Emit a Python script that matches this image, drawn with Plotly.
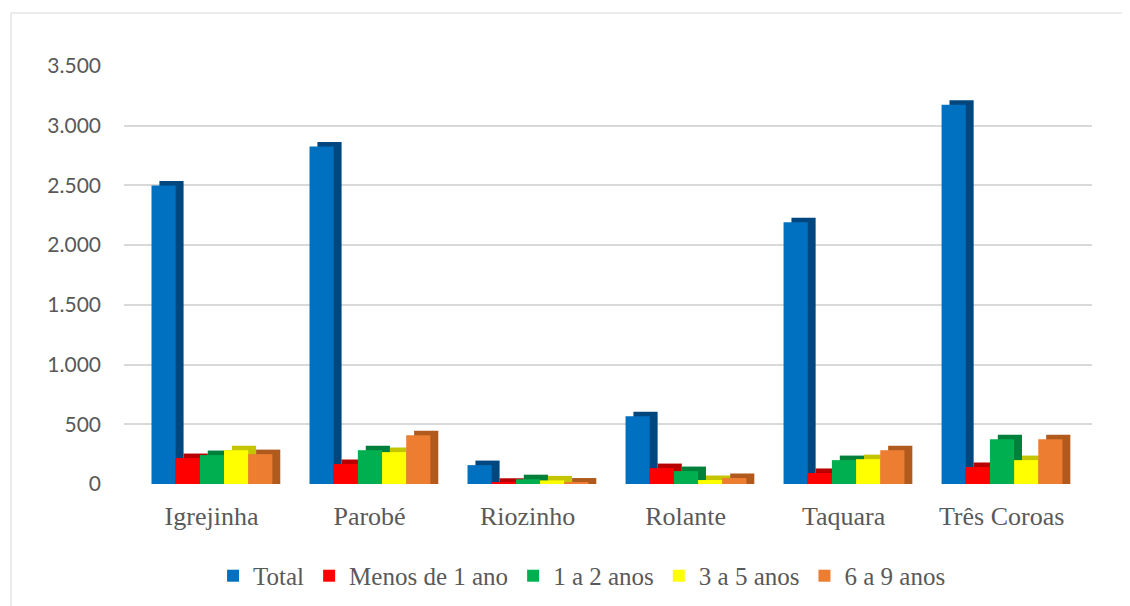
import plotly.graph_objects as go

categories = ["Igrejinha", "Parobé", "Riozinho", "Rolante", "Taquara", "Três Coroas"]
series_names = ["Total", "Menos de 1 ano", "1 a 2 anos", "3 a 5 anos", "6 a 9 anos"]
total = [2500, 2825, 158, 567, 2192, 3175]
menos_1 = [217, 167, 10, 133, 92, 142]
anos_1_2 = [242, 283, 40, 108, 200, 375]
anos_3_5 = [283, 267, 30, 33, 208, 200]
anos_6_9 = [250, 408, 12, 50, 283, 375]
y_ticks = [0, 500, 1000, 1500, 2000, 2500, 3000, 3500]

series_values = [total, menos_1, anos_1_2, anos_3_5, anos_6_9]
front_colors = ["#0070C0", "#FF0000", "#00B050", "#FFFF00", "#ED7D31"]
side_colors = ["#00467F", "#B80000", "#00803A", "#C4C400", "#B05A1E"]

W = 0.153
start = -0.38
depth_x = 0.05
depth_y = 38

fig = go.Figure()
# 3D side/top faces (drawn behind)
for i, (name, vals) in enumerate(zip(series_names, series_values)):
    fig.add_trace(go.Bar(
        x=categories, y=[v + depth_y for v in vals], width=W,
        offset=start + i * W + depth_x,
        marker=dict(color=side_colors[i], line=dict(width=0)),
        showlegend=False, hoverinfo="skip",
    ))
# front faces
for i, (name, vals) in enumerate(zip(series_names, series_values)):
    fig.add_trace(go.Bar(
        x=categories, y=vals, width=W, offset=start + i * W, name=name,
        marker=dict(color=front_colors[i], line=dict(width=0)),
    ))

fig.update_layout(
    width=1122, height=598,
    barmode="overlay",
    separators=",.",
    paper_bgcolor="white", plot_bgcolor="white",
    margin=dict(l=116, r=38, t=58, b=122, autoexpand=False),
    xaxis=dict(
        showgrid=False, showline=False, ticks="",
        tickfont=dict(family="Liberation Serif", size=26, color="#595959"),
        range=[-0.554, 5.572], ticklabelstandoff=14,
    ),
    yaxis=dict(
        range=[0, 3500], tickvals=y_ticks, tickformat=",d",
        showgrid=True, gridcolor="#D9D9D9", gridwidth=2,
        zeroline=False, showline=False, ticks="",
        tickfont=dict(family="Lato", size=21, color="#595959"),
        ticklabelstandoff=22,
    ),
    legend=dict(
        orientation="h", x=0.4732, xanchor="center", y=-0.220, yanchor="middle",
        font=dict(family="Liberation Serif", size=25, color="#595959"),
        itemsizing="constant", traceorder="normal",
    ),
    shapes=[dict(type="rect", xref="paper", yref="paper",
                 x0=-0.1167, x1=1.5, y0=-1.0, y1=1.1268,
                 line=dict(color="#D9D9D9", width=1), fillcolor="rgba(0,0,0,0)",
                 layer="below")],
)

fig.write_html("out.html")
